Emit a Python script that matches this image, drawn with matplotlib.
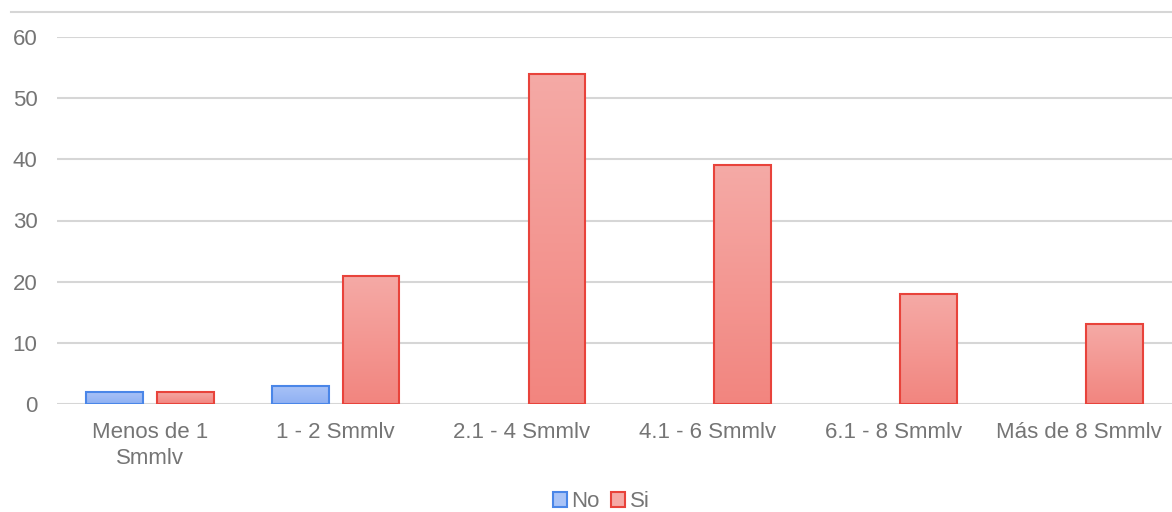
import matplotlib.pyplot as plt
import numpy as np
from matplotlib.colors import LinearSegmentedColormap
from matplotlib.patches import Patch
from matplotlib.lines import Line2D

categorias = ['Menos de 1\nSmmlv', '1 - 2 Smmlv', '2.1 - 4 Smmlv',
              '4.1 - 6 Smmlv', '6.1 - 8 Smmlv', 'Más de 8 Smmlv']
no_vals = [2, 3, 0, 0, 0, 0]
si_vals = [2, 21, 54, 39, 18, 13]

plt.rcParams['font.family'] = ['Liberation Sans', 'DejaVu Sans']

fig = plt.figure(figsize=(11.72, 5.12), dpi=100)
ax = fig.add_axes([57 / 1172, 1 - 404 / 512, 1 - 57 / 1172, (404 - 37) / 512])

x = np.arange(len(categorias))
w = 0.305
off = 0.19

# gradient colours: top -> bottom
series = [
    (no_vals, -off, '#4a86e8', ('#a9c3f7', '#8fb0f3'), 'No'),
    (si_vals, off, '#e8433b', ('#f5aaa6', '#f2857f'), 'Si'),
]

ax.set_xlim(-0.5, len(categorias) - 0.5)
ax.set_ylim(0, 60)

handles = []
for vals, dx, edge, (ctop, cbot), name in series:
    cmap = LinearSegmentedColormap.from_list(name, [cbot, ctop])
    bars = ax.bar(x + dx, vals, width=w, facecolor='none', edgecolor=edge,
                  linewidth=1.5, zorder=3)
    grad = np.linspace(0, 1, 256).reshape(-1, 1)
    for b in bars:
        if b.get_height() <= 0:
            b.set_visible(False)
            continue
        x0, y0 = b.get_x(), b.get_y()
        im = ax.imshow(grad, cmap=cmap, origin='lower', aspect='auto',
                       extent=[x0, x0 + b.get_width(), y0, y0 + b.get_height()],
                       zorder=2)
        im.set_clip_path(b)
    handles.append(Patch(facecolor=ctop, edgecolor=edge, linewidth=1.5, label=name))

ax.set_xlim(-0.5, len(categorias) - 0.5)
ax.set_ylim(0, 60)

ax.set_yticks(np.arange(0, 61, 10))
ax.yaxis.grid(True, color='#d6d6d6', linewidth=1.5)
ax.set_axisbelow(True)
for s in ax.spines.values():
    s.set_visible(False)
ax.set_xticks(x)
ax.set_xticklabels(categorias, linespacing=1.3)
ax.tick_params(axis='both', length=0, labelsize=16, labelcolor='#757575')
ax.tick_params(axis='x', pad=13)
ax.tick_params(axis='y', pad=14)

# top border line of the chart area
fig.add_artist(Line2D([11 / 1172, 1], [1 - 11.5 / 512, 1 - 11.5 / 512],
                      color='#d6d6d6', linewidth=1.5))

fig.legend(handles=handles, loc='center', bbox_to_anchor=(0.513, 0.02),
           ncol=2, frameon=False, fontsize=16, labelcolor='#757575',
           handlelength=0.65, handleheight=0.65, handletextpad=0.2,
           columnspacing=0.5)

fig.savefig('out.png', dpi=100)
